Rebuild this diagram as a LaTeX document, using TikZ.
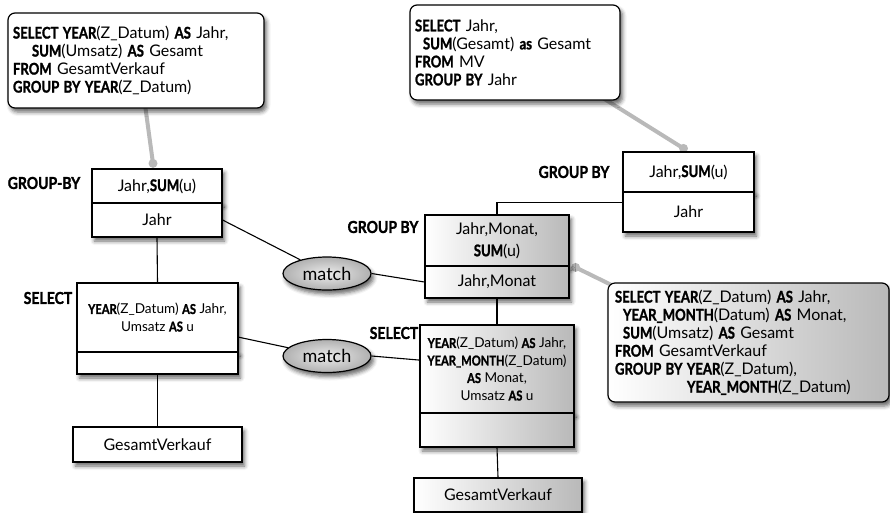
\documentclass[tikz,border=0pt]{standalone}
\usepackage{fontspec}
\setmainfont{Lato}[BoldFeatures={FakeBold=1.6}]
\usetikzlibrary{shapes.geometric,shadows.blur,calc}
\pgfdeclarelayer{bg}
\pgfsetlayers{bg,main}
% condensed heavy keywords and operator labels
\newcommand\kw[1]{\scalebox{0.82}[1]{\bfseries #1}}
\newcommand\oplbl[1]{\scalebox{0.85}[1]{\bfseries #1}}
\tikzset{
  shade/.style={blur shadow={shadow xshift=2.5pt, shadow yshift=-4pt, shadow blur radius=4pt, shadow opacity=60}},
  box/.style={draw, line width=1.2pt, fill=white, inner sep=0pt, align=center, shade, font=\fontsize{16}{18}\selectfont},
  gbox/.style={box, left color=white, right color=gray!55},
  query/.style={draw, line width=1.2pt, fill=white, rounded corners=7pt, align=left, inner ysep=0pt, shade, font=\fontsize{16}{18}\selectfont},
  matchnode/.style={ellipse, draw, line width=1.2pt, inner color=gray!15, outer color=gray!62, minimum width=88pt, minimum height=33pt, inner sep=0pt, shade, font=\fontsize{18}{20}\selectfont},
  oplabel/.style={font=\fontsize{16.5}{18}\selectfont, inner sep=0pt},
  link/.style={line width=1.1pt},
  pointer/.style={line width=4pt, gray!55},
  small/.style={font=\fontsize{13.6}{17.5}\selectfont}
}
\begin{document}
\begin{tikzpicture}[x=1pt, y=-1pt]
\useasboundingbox (0,0) rectangle (890,512);

% query callouts
\node[query, text width=246pt, inner xsep=5pt, minimum width=256pt, minimum height=95pt] (qTL) at (136,60.5)
  {\kw{SELECT YEAR}(Z\_Datum) \kw{AS} Jahr,\\
   \hspace*{19pt}\kw{SUM}(Umsatz) \kw{AS} Gesamt\\
   \kw{FROM} GesamtVerkauf\\
   \kw{GROUP BY YEAR}(Z\_Datum)};
\node[query, text width=200pt, inner xsep=5pt, minimum width=210pt, minimum height=95pt] (qTR) at (515,52.5)
  {\kw{SELECT} Jahr,\\
   \hspace*{8pt}\kw{SUM}(Gesamt) \kw{as} Gesamt\\
   \kw{FROM} MV\\
   \kw{GROUP BY} Jahr};
\node[query, left color=white, right color=gray!55, text width=267pt, inner xsep=7pt, minimum width=281pt, minimum height=119pt] (qBR) at (748.5,342.5)
  {\kw{SELECT YEAR}(Z\_Datum) \kw{AS} Jahr,\\
   \hspace*{8pt}\kw{YEAR\_MONTH}(Datum) \kw{AS} Monat,\\
   \hspace*{8pt}\kw{SUM}(Umsatz) \kw{AS} Gesamt\\
   \kw{FROM} GesamtVerkauf\\
   \kw{GROUP BY YEAR}(Z\_Datum),\\
   \hspace*{72pt}\kw{YEAR\_MONTH}(Z\_Datum)};

% left plan
\node[box, minimum width=130pt, minimum height=34pt] (gbLt) at (157,186) {Jahr,\kw{SUM}(u)};
\node[box, minimum width=130pt, minimum height=34pt] (gbLb) at (157,220) {Jahr};
\node[box, small, minimum width=161pt, minimum height=69pt] (selLt) at (157.5,317.5)
  {\kw{YEAR}(Z\_Datum) \kw{AS} Jahr,\\ Umsatz \kw{AS} u};
\node[box, minimum width=161pt, minimum height=22pt] (selLb) at (157.5,363) {};
\node[box, minimum width=169pt, minimum height=35pt] (gvL) at (157.5,444.5) {GesamtVerkauf};

% right plan
\node[box, minimum width=131pt, minimum height=40pt] (gbRt) at (688.5,172) {Jahr,\kw{SUM}(u)};
\node[box, minimum width=131pt, minimum height=40pt] (gbRb) at (688.5,212) {Jahr};
\node[gbox, minimum width=144pt, minimum height=51pt, font=\fontsize{16}{22}\selectfont] (gbMt) at (497,240.5) {Jahr,Monat,\\\kw{SUM}(u)};
\node[gbox, minimum width=144pt, minimum height=32pt] (gbMb) at (497,282) {Jahr,Monat};
\node[gbox, small, minimum width=154pt, minimum height=88pt] (selMt) at (497,369)
  {\kw{YEAR}(Z\_Datum) \kw{AS} Jahr,\\ \kw{YEAR\_MONTH}(Z\_Datum)\\ \kw{AS} Monat,\\ Umsatz \kw{AS} u};
\node[gbox, minimum width=154pt, minimum height=34pt] (selMb) at (497,430) {};
\node[gbox, minimum width=168pt, minimum height=34pt] (gvM) at (498,495) {GesamtVerkauf};

% matches
\node[matchnode] (m1) at (327,273.5) {match};
\node[matchnode] (m2) at (327,356) {match};

% operator labels
\node[oplabel] (lGBL) at (44,183) {\oplbl{GROUP-BY}};
\node[oplabel] (lSelL) at (48,298) {\oplbl{SELECT}};
\node[oplabel] (lGBM) at (383,227) {\oplbl{GROUP BY}};
\node[oplabel] (lGBR) at (574,172) {\oplbl{GROUP BY}};
\node[oplabel] (lSelM) at (394,333) {\oplbl{SELECT}};

% plan edges
\begin{pgfonlayer}{bg}
\draw[link] (gbLb.south) -- (selLt.north);
\draw[link] (selLb.south) -- (gvL.north);
\draw[link] (gbLb.east) -- (m1);
\draw[link] (m1.east) -- (gbMb.west);
\draw[link] ($(selLt.north east)!0.78!(selLt.south east)$) -- (m2);
\draw[link] (m2.east) -- ($(selMt.north west)!0.4!(selMt.south west)$);
\draw[link] (gbMb.south) -- (selMt.north);
\draw[link] (selMb.south) -- (gvM.north);
\draw[link] (gbMt.north) |- ($(gbRb.north west)!0.28!(gbRb.south west)$);

% callout pointers
\coordinate (pTL) at ($(gbLt.north)+(-4,-5)$);
\coordinate (pTR) at ($(gbRt.north)+(-5,-3)$);
\coordinate (pBR) at ($(gbMb.north east)+(6,2)$);
\draw[pointer] ($(qTL.south)+(9,-4)$) -- (pTL);
\draw[pointer] ($(qTR.south east)+(-20,-4)$) -- (pTR);
\draw[pointer] ($(qBR.north west)+(7,4)$) -- (pBR);
\fill[gray!55] (pTL) circle (4.5);
\fill[gray!55] (pTR) circle (4.5);
\fill[gray!55] (pBR) circle (4.5);
\end{pgfonlayer}
\end{tikzpicture}
\end{document}
